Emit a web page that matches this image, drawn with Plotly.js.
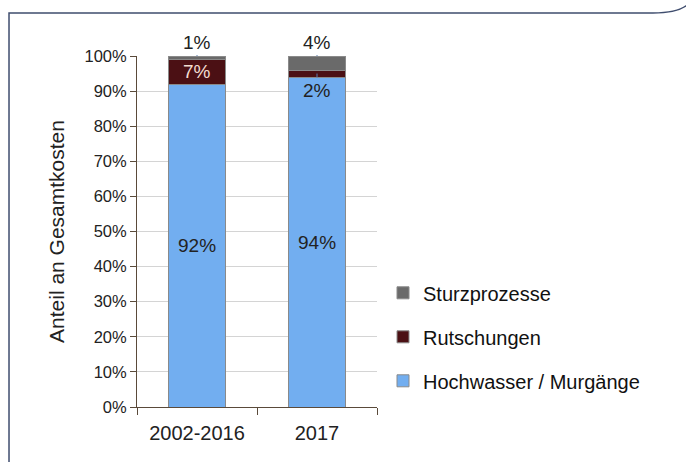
<!DOCTYPE html>
<html><head><meta charset="utf-8">
<script src="https://cdn.plot.ly/plotly-3.0.1.min.js"></script>
<style>html,body{margin:0;padding:0;background:#fff}#c{width:686px;height:462px}</style>
</head><body><div id="c"></div>
<script>
const categories = ["2002-2016", "2017"];
const hochwasser = [92, 94];
const rutschungen = [7, 2];
const sturz = [1, 4];
const seriesNames = ["Hochwasser / Murgänge", "Rutschungen", "Sturzprozesse"];
const yTickVals = [0,10,20,30,40,50,60,70,80,90,100];
const yTickText = yTickVals.map(v => v + "%");

const colors = ["#72aef0", "#4b1014", "#6a6a6a"];
const lineCol = "#8a8a8a";
const font = "Liberation Sans, Arial, sans-serif";

function mk(name, vals, col, grp, rank) {
  return {type: "bar", x: categories, y: vals, name: name, legendgroup: grp, legendrank: rank,
    marker: {color: col, line: {color: lineCol, width: 1}}, width: 0.47,
    hoverinfo: "skip"};
}
const data = [
  mk(seriesNames[0], hochwasser, colors[0], "a", 3),
  mk(seriesNames[1], rutschungen, colors[1], "b", 2),
  mk(seriesNames[2], sturz, colors[2], "c", 1)
];

const ann = [];
const lblFont = (c) => ({family: font, size: 19, color: c});
categories.forEach((c, i) => {
  ann.push({x: i, y: hochwasser[i] / 2, text: hochwasser[i] + "%", showarrow: false, font: lblFont("#222")});
  ann.push({x: i, y: 100, ax: 0, ay: -1, text: sturz[i] + "%", showarrow: true, arrowhead: 0,
    arrowcolor: "#5a7fb0", arrowwidth: 1, standoff: 0, startstandoff: 0, yanchor: "bottom", font: lblFont("#222")});
});
ann.push({x: 0, y: hochwasser[0] + rutschungen[0] / 2, text: rutschungen[0] + "%", showarrow: false, font: lblFont("#f3dcd0")});
ann.push({x: 1, y: hochwasser[1] + rutschungen[1] / 2, ax: 0, ay: 4, text: rutschungen[1] + "%", showarrow: true, arrowhead: 0,
  arrowcolor: "#5a7fb0", arrowwidth: 1, standoff: 0, yanchor: "top", font: lblFont("#222")});

const layout = {
  width: 686, height: 462,
  margin: {l: 137, r: 309, t: 56, b: 55},
  paper_bgcolor: "#ffffff", plot_bgcolor: "#ffffff",
  barmode: "stack",
  showlegend: true,
  legend: {x: 1.025, y: 0.2, xanchor: "left", yanchor: "middle", traceorder: "grouped",
    tracegroupgap: 15, itemwidth: 30, font: {family: font, size: 20, color: "#111"}},
  font: {family: font, color: "#222"},
  xaxis: {type: "category", range: [-0.5, 1.5], showline: true, linecolor: "#5a4a3a", linewidth: 1,
    ticks: "outside", tickson: "boundaries", ticklen: 7, tickcolor: "#5a4a3a",
    tickfont: {family: font, size: 20, color: "#222"}, ticklabelstandoff: 8,
    showgrid: false, zeroline: false, fixedrange: true},
  yaxis: {range: [0, 100], tickvals: yTickVals, ticktext: yTickText,
    showline: true, linecolor: "#5a4a3a", linewidth: 1, ticks: "outside", ticklen: 6, tickcolor: "#5a4a3a",
    tickfont: {family: font, size: 16.5, color: "#222"},
    showgrid: true, gridcolor: "#d4d4d4", gridwidth: 1, zeroline: false,
    title: {text: "Anteil an Gesamtkosten", font: {family: font, size: 21, color: "#222"}, standoff: 14},
    fixedrange: true},
  annotations: ann,
  shapes: [{type: "path", xref: "paper", yref: "paper",
    path: "M -0.5333,-0.16 L -0.5333,1.1225 L 2.15,1.1225 Q 2.26,1.1225 2.3,1.15",
    line: {color: "#3f4d6e", width: 1.5}}]
};
Plotly.newPlot("c", data, layout, {displayModeBar: false, staticPlot: true});
</script></body></html>
